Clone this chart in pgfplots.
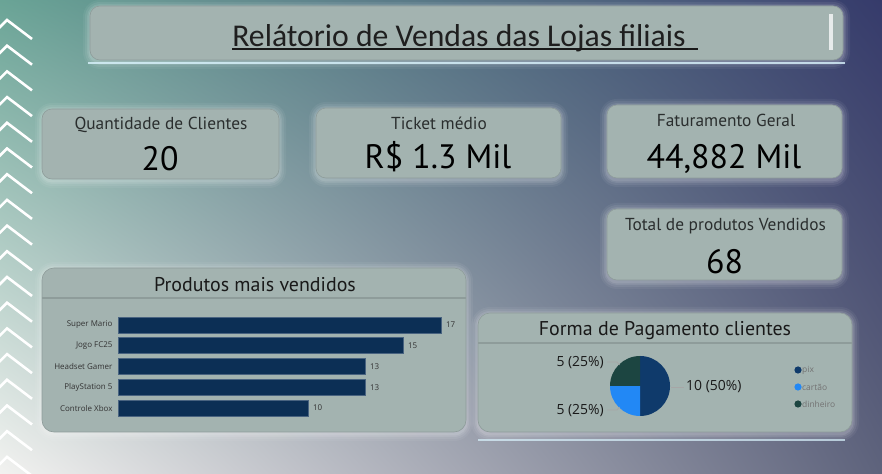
\documentclass[border=0pt]{standalone}
\usepackage{fontspec}
\setmainfont{PT Sans}
\newfontfamily\titlefont{Carlito}
\newfontfamily\seg{Open Sans}
\usepackage{pgfplots}
\pgfplotsset{compat=1.18}
\usetikzlibrary{shadings}
\definecolor{panel}{HTML}{A3B3B0}
\definecolor{panelb}{HTML}{8E9C9A}
\definecolor{bgTL}{HTML}{6AA496}
\definecolor{bgTR}{HTML}{363B6B}
\definecolor{bgBL}{HTML}{F2F2F0}
\definecolor{bgBR}{HTML}{5E637C}
\definecolor{barc}{HTML}{0C2F55}
\definecolor{pixc}{HTML}{0F3A6B}
\definecolor{cartc}{HTML}{2288F5}
\definecolor{dinc}{HTML}{1C4541}
\definecolor{txt}{HTML}{2A2E2E}
\newcommand\panel[5]{%
  \foreach \g/\o in {7/0.05,5/0.07,3/0.09,1.5/0.11}{%
    \fill[white, opacity=\o, rounded corners=#5+\g] (#1-\g,474-#4-\g-2) rectangle (#3+\g,474-#2+\g-1);}
  \filldraw[fill=panel, draw=panelb, line width=0.6, rounded corners=#5] (#1,474-#4) rectangle (#3,474-#2);}
\begin{document}
\begin{tikzpicture}[x=1bp,y=1bp]
\useasboundingbox (0,0) rectangle (882,474);
\clip (0,0) rectangle (882,474);
\shade[upper left=bgTL, upper right=bgTR, lower left=bgBL, lower right=bgBR] (0,0) rectangle (882,474);
% chevrons
\foreach \k in {0,...,17}{%
  \pgfmathsetmacro\yy{474-(20+25.7*\k)}
  \draw[white, line width=2.6, line cap=butt, line join=miter] (-2,\yy-9) -- (7,\yy) -- (32,\yy-19);}
% panels
\panel{90}{6}{843}{60}{10}
\panel{42}{109}{279}{179}{10}
\panel{316}{108}{561}{178}{10}
\panel{607}{105}{842}{178}{10}
\panel{607}{209}{842}{280}{10}
\panel{42}{268}{466}{432}{12}
\panel{478}{313}{852}{432}{12}
% lines
\draw[white!85!cyan, opacity=0.8, line width=1.2] (88,474-63) -- (845,474-63);
\draw[white!85!cyan, opacity=0.7, line width=1.2] (478,474-440) -- (845,474-440);
\fill[white, opacity=0.75] (829,474-50) rectangle (833,474-14);
\draw[panelb, line width=1.5] (42,474-298) -- (466,474-298);
\draw[panelb, line width=1.5] (478,474-343) -- (852,474-343);
% title
\node[font=\titlefont\fontsize{31.8}{34}\selectfont, text=black!88, anchor=base, inner sep=0] at (459,474-46.5) {Relátorio de Vendas das Lojas filiais};
\draw[black!90, line width=2] (232,474-48.8) -- (698,474-48.8);
% cards
\node[font=\fontsize{17.4}{19}\selectfont, text=txt, anchor=base] at (161,474-130) {Quantidade de Clientes};
\node[font=\fontsize{34}{36}\selectfont, text=black, anchor=base] at (160,474-170.7) {20};
\node[font=\fontsize{17.4}{19}\selectfont, text=txt, anchor=base] at (439,474-130) {Ticket médio};
\node[font=\fontsize{34}{36}\selectfont, text=black, anchor=base] at (438,474-168.3) {R\$ 1.3 Mil};
\node[font=\fontsize{17.4}{19}\selectfont, text=txt, anchor=base] at (726,474-126.7) {Faturamento Geral};
\node[font=\fontsize{34}{36}\selectfont, text=black, anchor=base] at (724,474-169) {44,882 Mil};
\node[font=\fontsize{17.4}{19}\selectfont, text=txt, anchor=base] at (725.5,474-230.7) {Total de produtos Vendidos};
\node[font=\fontsize{34}{36}\selectfont, text=black, anchor=base] at (724.5,474-274) {68};
% panel titles
\node[font=\fontsize{20}{22}\selectfont, text=black!90, anchor=base] at (255,474-291.7) {Produtos mais vendidos};
\node[font=\fontsize{20}{22}\selectfont, text=black!90, anchor=base] at (665,474-336) {Forma de Pagamento clientes};
% bar chart
\begin{axis}[at={(118bp,55.6bp)}, anchor=south west, scale only axis,
  width=323bp, height=103.75bp, xmin=0, xmax=17, ymin=-0.5, ymax=4.5,
  xbar, bar width=16bp, axis line style={draw=none}, xtick=\empty,
  /pgf/number format/assume math mode=true,
  ytick={0,1,2,3,4},
  yticklabels={Controle Xbox, PlayStation 5, Headset Gamer, Jogo FC25, Super Mario},
  y tick label style={font=\seg\fontsize{8}{9}\selectfont, text=black!80, xshift=-2bp},
  major tick length=0pt, clip=false,
  nodes near coords,
  nodes near coords style={font=\seg\fontsize{8}{9}\selectfont, text=black!80, xshift=1.5bp}]
\addplot[fill=barc, draw=barc!75!white, line width=0.7] coordinates {(10,0) (13,1) (13,2) (15,3) (17,4)};
\end{axis}
% pie chart: pix 10, cartao 5, dinheiro 5
\def\vpix{10}\def\vcart{5}\def\vdin{5}
\pgfmathsetmacro\tot{\vpix+\vcart+\vdin}
\pgfmathsetmacro\aA{90-360*\vpix/\tot}
\pgfmathsetmacro\aB{\aA-360*\vcart/\tot}
\pgfmathsetmacro\aC{\aB-360*\vdin/\tot}
\begin{axis}[at={(640bp,88bp)}, anchor=center, scale only axis, hide axis,
  width=60bp, height=60bp, xmin=-1, xmax=1, ymin=-1, ymax=1, clip=false]
\fill[pixc] (axis cs:0,0) -- ++(90:30bp) arc[start angle=90, end angle=\aA, radius=30bp] -- cycle;
\fill[cartc] (axis cs:0,0) -- ++(\aA:30bp) arc[start angle=\aA, end angle=\aB, radius=30bp] -- cycle;
\fill[dinc] (axis cs:0,0) -- ++(\aB:30bp) arc[start angle=\aB, end angle=\aC, radius=30bp] -- cycle;
\end{axis}
% pie labels
\draw[gray!70, line width=0.8] (671,474-387) -- (684,474-387);
\draw[gray!70, line width=0.8] (607,474-362) -- (617,474-362) -- (619.5,474-365);
\draw[gray!70, line width=0.8] (607,474-410) -- (617,474-410) -- (619.5,474-407);
\node[font=\seg\fontsize{14}{16}\selectfont, text=black!90, anchor=west, inner sep=0] at (686,474-387) {10 (50\%)};
\node[font=\seg\fontsize{14}{16}\selectfont, text=black!90, anchor=east, inner sep=0] at (604,474-363) {5 (25\%)};
\node[font=\seg\fontsize{14}{16}\selectfont, text=black!90, anchor=east, inner sep=0] at (604,474-411) {5 (25\%)};
% legend
\fill[pixc] (798,474-370) circle (3.6);
\fill[cartc] (798,474-387) circle (3.6);
\fill[dinc] (798,474-404) circle (3.6);
\node[font=\seg\fontsize{8.5}{10}\selectfont, text=black!55, anchor=west, inner sep=0] at (802,474-370) {pix};
\node[font=\seg\fontsize{8.5}{10}\selectfont, text=black!55, anchor=west, inner sep=0] at (802,474-387) {cartão};
\node[font=\seg\fontsize{8.5}{10}\selectfont, text=black!55, anchor=west, inner sep=0] at (802,474-404) {dinheiro};
\end{tikzpicture}
\end{document}
